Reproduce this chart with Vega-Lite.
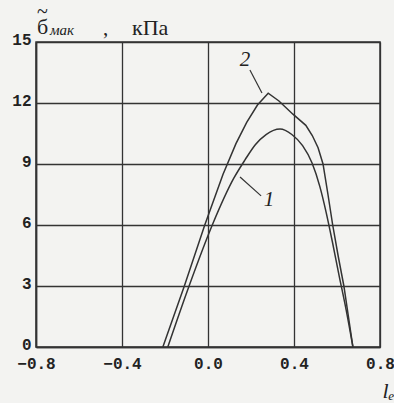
{
  "$schema": "https://vega.github.io/schema/vega-lite/v6.json",
  "width": 344,
  "height": 305,
  "autosize": {"type": "none"},
  "padding": {"left": 36, "top": 42, "right": 14, "bottom": 56},
  "background": "#f3f3f1",
  "config": {
    "view": {"stroke": "#333333", "strokeWidth": 1.5},
    "axis": {
      "domainColor": "#333333",
      "domainWidth": 1.6,
      "gridColor": "#333333",
      "gridWidth": 1.3,
      "gridOpacity": 1,
      "ticks": false,
      "labelFont": "Liberation Mono",
      "labelFontWeight": "bold",
      "labelFontSize": 16,
      "labelColor": "#222222",
      "labelFlush": false,
      "labelOverlap": false
    }
  },
  "datasets": {
    "curves": [
      {"curve": "1", "l": -0.187, "v": 0},
      {"curve": "1", "l": -0.088, "v": 3},
      {"curve": "1", "l": 0.02, "v": 6},
      {"curve": "1", "l": 0.12, "v": 8.3},
      {"curve": "1", "l": 0.172, "v": 9.2},
      {"curve": "1", "l": 0.22, "v": 9.95},
      {"curve": "1", "l": 0.27, "v": 10.45},
      {"curve": "1", "l": 0.335, "v": 10.72},
      {"curve": "1", "l": 0.39, "v": 10.45},
      {"curve": "1", "l": 0.44, "v": 9.9},
      {"curve": "1", "l": 0.484, "v": 9.05},
      {"curve": "1", "l": 0.52, "v": 7.9},
      {"curve": "1", "l": 0.55, "v": 6.6},
      {"curve": "1", "l": 0.578, "v": 5.2},
      {"curve": "1", "l": 0.61, "v": 3.5},
      {"curve": "1", "l": 0.643, "v": 1.8},
      {"curve": "1", "l": 0.674, "v": 0},
      {"curve": "2", "l": -0.21, "v": 0},
      {"curve": "2", "l": -0.11, "v": 3},
      {"curve": "2", "l": -0.015, "v": 6},
      {"curve": "2", "l": 0.07, "v": 8.5},
      {"curve": "2", "l": 0.13, "v": 10.0},
      {"curve": "2", "l": 0.18, "v": 11.05},
      {"curve": "2", "l": 0.23, "v": 11.9},
      {"curve": "2", "l": 0.28, "v": 12.48},
      {"curve": "2", "l": 0.33, "v": 12.1},
      {"curve": "2", "l": 0.395, "v": 11.45},
      {"curve": "2", "l": 0.455, "v": 10.9},
      {"curve": "2", "l": 0.485, "v": 10.4},
      {"curve": "2", "l": 0.512, "v": 9.8},
      {"curve": "2", "l": 0.535, "v": 9.0},
      {"curve": "2", "l": 0.558, "v": 7.5},
      {"curve": "2", "l": 0.58, "v": 6.0},
      {"curve": "2", "l": 0.605, "v": 4.5},
      {"curve": "2", "l": 0.632, "v": 3.0},
      {"curve": "2", "l": 0.674, "v": 0}
    ],
    "leaders": [
      {"curve": "2", "l1": 0.195, "v1": 13.62, "l2": 0.251, "v2": 12.49},
      {"curve": "1", "l1": 0.149, "v1": 8.36, "l2": 0.247, "v2": 7.43}
    ],
    "labels": [
      {"curve": "2", "l": 0.172, "v": 14.1},
      {"curve": "1", "l": 0.284, "v": 7.23}
    ]
  },
  "layer": [
    {
      "data": {"name": "curves"},
      "transform": [{"filter": "datum.curve === '1'"}],
      "mark": {"type": "line", "interpolate": "monotone", "color": "#333333", "strokeWidth": 1.5},
      "encoding": {
        "x": {
          "field": "l",
          "type": "quantitative",
          "scale": {"domain": [-0.8, 0.8], "nice": false, "zero": false},
          "axis": {
            "values": [-0.8, -0.4, 0, 0.4, 0.8],
            "format": ".1f",
            "grid": true,
            "labelPadding": 8,
            "title": "lₑ",
            "titleFont": "Liberation Serif",
            "titleFontStyle": "italic",
            "titleFontWeight": "normal",
            "titleFontSize": 22,
            "titleColor": "#222222",
            "titleAlign": "right",
            "titleBaseline": "alphabetic",
            "titleX": 358,
            "titleY": 50
          }
        },
        "y": {
          "field": "v",
          "type": "quantitative",
          "scale": {"domain": [0, 15], "nice": false},
          "axis": {
            "values": [0, 3, 6, 9, 12, 15],
            "grid": true,
            "labelPadding": 5,
            "labelOffset": -3,
            "title": null
          }
        }
      }
    },
    {
      "data": {"name": "curves"},
      "transform": [{"filter": "datum.curve === '2'"}],
      "mark": {"type": "line", "interpolate": "linear", "color": "#333333", "strokeWidth": 1.5},
      "encoding": {
        "x": {"field": "l", "type": "quantitative"},
        "y": {"field": "v", "type": "quantitative"}
      }
    },
    {
      "data": {"name": "leaders"},
      "mark": {"type": "rule", "color": "#333333", "strokeWidth": 1.2},
      "encoding": {
        "x": {"field": "l1", "type": "quantitative"},
        "y": {"field": "v1", "type": "quantitative"},
        "x2": {"field": "l2"},
        "y2": {"field": "v2"}
      }
    },
    {
      "data": {"name": "labels"},
      "mark": {"type": "text", "font": "Liberation Serif", "fontStyle": "italic", "fontSize": 21, "color": "#222222", "align": "center", "baseline": "middle"},
      "encoding": {
        "x": {"field": "l", "type": "quantitative"},
        "y": {"field": "v", "type": "quantitative"},
        "text": {"field": "curve"}
      }
    },
    {
      "data": {"values": [{}]},
      "mark": {"type": "text", "font": "Liberation Serif", "fontSize": 22, "color": "#222222", "align": "left", "baseline": "alphabetic", "dx": 1, "dy": -8},
      "encoding": {"x": {"datum": -0.8}, "y": {"datum": 15}, "text": {"value": "б"}}
    },
    {
      "data": {"values": [{}]},
      "mark": {"type": "text", "font": "Liberation Serif", "fontSize": 20, "color": "#222222", "align": "left", "baseline": "alphabetic", "dx": 1, "dy": -24},
      "encoding": {"x": {"datum": -0.8}, "y": {"datum": 15}, "text": {"value": "~"}}
    },
    {
      "data": {"values": [{}]},
      "mark": {"type": "text", "font": "Liberation Serif", "fontStyle": "italic", "fontSize": 15, "color": "#222222", "align": "left", "baseline": "alphabetic", "dx": 14, "dy": -7},
      "encoding": {"x": {"datum": -0.8}, "y": {"datum": 15}, "text": {"value": "мак"}}
    },
    {
      "data": {"values": [{}]},
      "mark": {"type": "text", "font": "Liberation Serif", "fontSize": 21, "color": "#222222", "align": "left", "baseline": "alphabetic", "dx": 67, "dy": -7},
      "encoding": {"x": {"datum": -0.8}, "y": {"datum": 15}, "text": {"value": ","}}
    },
    {
      "data": {"values": [{}]},
      "mark": {"type": "text", "font": "Liberation Serif", "fontSize": 22, "color": "#222222", "align": "left", "baseline": "alphabetic", "dx": 96, "dy": -7},
      "encoding": {"x": {"datum": -0.8}, "y": {"datum": 15}, "text": {"value": "кПа"}}
    }
  ]
}
